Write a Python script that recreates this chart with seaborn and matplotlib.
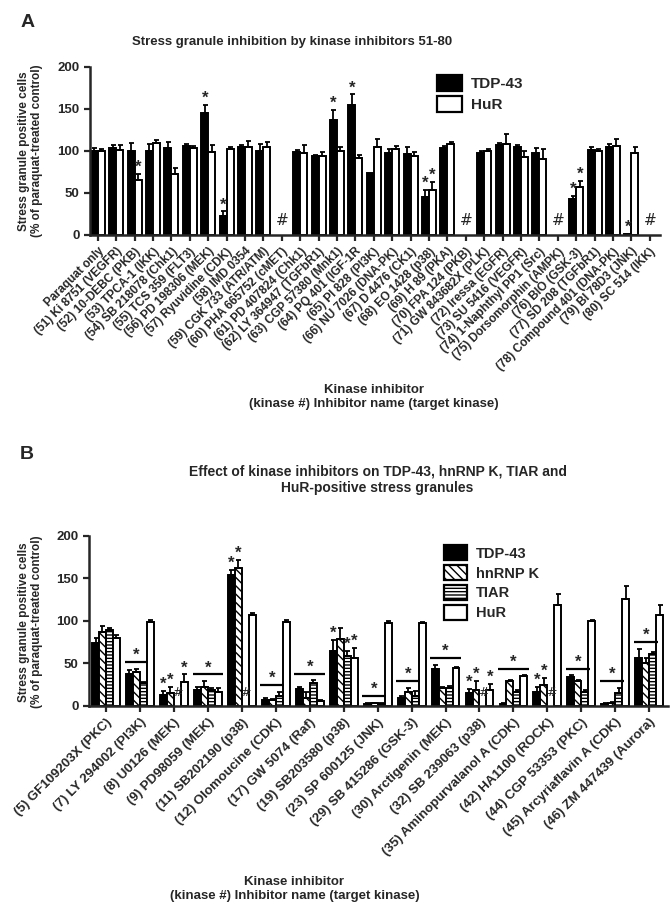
import numpy as np
import pandas as pd
import matplotlib
matplotlib.use("Agg")
import matplotlib.pyplot as plt
import seaborn as sns
from matplotlib.patches import Patch

sns.set_style("ticks")
plt.rcParams['font.family'] = ['Liberation Sans', 'DejaVu Sans']
plt.rcParams['font.weight'] = 'bold'
plt.rcParams['hatch.linewidth'] = 1.0

# ---------------- Panel A data ----------------
inhibitors_a = [
    "Paraquat only", "(51) Ki 8751 (VEGFR)", "(52) 10-DEBC (PKB)", "(53) TPCA-1 (IKK)",
    "(54) SB 218078 (Chk1)", "(55) TCS 359 (FLT3)", "(56) PD 198306 (MEK)",
    "(57) Ryuvidine (CDK)", "(58) IMD 0354", "(59) CGK 733 (ATR/ATM)",
    "(60) PHA 665752 (cMET)", "(61) PD 407824 (Chk1)", "(62) LY 364947 (TGFbR1)",
    "(63) CGP 57380 (Mnk1)", "(64) PQ 401 (IGF-1R", "(65) PI 828 (PI3K)",
    "(66) NU 7026 (DNA-PK)", "(67) D 4476 (CK1)", "(68) EO 1428 (p38)",
    "(69) H 89 (PKA)", "(70) FPA 124 (PKB)", "(71) GW 843682X (PLK)",
    "(72) Iressa (EGFR)", "(73) SU 5416 (VEGFR)", "(74) 1-Naphthyl PP1 (Src)",
    "(75) Dorsomorphin (AMPK)", "(76) BIO (GSK-3)", "(77) SD 208 (TGFbR1)",
    "(78) Compound 401 (DNA-PK)", "(79) BI 78D3 (JNK)", "(80) SC 514 (IKK)",
]
tdp_a = [100, 103, 100, 100, 103, 106, 145, 22, 104, 100,
         np.nan, 99, 94, 137, 155, 74, 98, 96, 45, 103,
         np.nan, 98, 107, 105, 98, np.nan, 43, 101, 104, 1, np.nan]
tdp_a_err = [3, 4, 9, 8, 7, 2, 9, 6, 3, 8,
             0, 2, 1, 12, 12, 0, 4, 8, 8, 3,
             0, 2, 2, 2, 5, 0, 3, 3, 4, 0, 0]
hur_a = [100, 101, 65, 109, 73, 103, 99, 102, 104, 104,
         np.nan, 97, 94, 100, 91, 104, 102, 94, 54, 108,
         np.nan, 100, 108, 93, 90, np.nan, 57, 100, 106, 98, np.nan]
hur_a_err = [2, 6, 8, 4, 7, 3, 8, 3, 8, 6,
             0, 10, 5, 4, 4, 10, 4, 5, 9, 2,
             0, 2, 12, 7, 12, 0, 7, 2, 8, 7, 0]
stars_a = {"TDP-43": [6, 7, 13, 14, 18, 26, 29], "HuR": [2, 18, 26]}

# ---------------- Panel B data ----------------
inhibitors_b = [
    "(5) GF109203X (PKC)", "(7) LY 294002 (PI3K)", "(8) U0126 (MEK)",
    "(9) PD98059 (MEK)", "(11) SB202190 (p38)", "(12) Olomoucine (CDK)",
    "(17) GW 5074 (Raf)", "(19) SB203580 (p38)", "(23) SP 600125 (JNK)",
    "(29) SB 415286 (GSK-3)", "(30) Arctigenin (MEK)", "(32) SB 239063 (p38)",
    "(35) Aminopurvalanol A (CDK)", "(42) HA1100 (ROCK)", "(44) CGP 53353 (PKC)",
    "(45) Arcyriaflavin A (CDK)", "(46) ZM 447439 (Aurora)",
]
tdp_b = [74, 38, 13, 19, 154, 7, 20, 64, 2, 9, 44, 15, 2, 16, 34, 2, 56]
tdp_b_err = [6, 4, 5, 3, 6, 2, 2, 14, 1, 3, 4, 5, 1, 6, 2, 1, 11]
hnrnp_b = [87, 40, 15, 22, 162, 7, 9, 79, 3, 16, 21, 19, 29, 25, 29, 3, 50]
hnrnp_b_err = [7, 4, 7, 7, 9, 1, 7, 12, 1, 5, 1, 10, 1, 8, 1, 2, 6]
tiar_b = [89, 27, np.nan, 19, np.nan, 12, 27, 59, 2, 12, 21, np.nan, 17, np.nan, 17, 15, 61]
tiar_b_err = [3, 1, 0, 2, 0, 5, 3, 6, 1, 6, 2, 0, 2, 0, 2, 6, 2]
hur_b = [80, 99, 28, 16, 107, 99, 6, 56, 98, 98, 45, 19, 35, 119, 100, 126, 107]
hur_b_err = [3, 2, 9, 5, 2, 2, 1, 12, 2, 1, 1, 7, 1, 12, 1, 15, 12]
# star with bar over first n bars of a group
star_lines_b = {1: 3, 3: 4, 5: 3, 6: 4, 8: 3, 9: 3, 10: 4, 12: 4, 14: 3, 15: 3, 16: 3}
stars_b = {"TDP-43": [2, 4, 7, 11, 13], "hnRNP K": [2, 4, 11, 13],
           "TIAR": [7], "HuR": [2, 7, 11]}


def long_df(cats, series):
    rows = []
    for name, (vals, errs) in series.items():
        for c, v, e in zip(cats, vals, errs):
            rows.append({"inhibitor": c, "protein": name,
                         "value": 0.0 if np.isnan(v) else v,
                         "err": e, "missing": bool(np.isnan(v))})
    return pd.DataFrame(rows)


def draw_panel(ax, df, cats, proteins, colors, hatches, width, fs_x, star_map,
               hash_center, hash_size):
    sns.barplot(data=df, x="inhibitor", y="value", hue="protein", order=cats,
                hue_order=proteins, palette=colors, width=width, dodge=True,
                errorbar=None, edgecolor="black", linewidth=1.4, legend=False, ax=ax)
    tops = {}
    for k, (prot, cont) in enumerate(zip(proteins, ax.containers)):
        sub = df[df.protein == prot].set_index("inhibitor").loc[cats]
        for i, p in enumerate(cont.patches):
            p.set_hatch(hatches[k])
            x = p.get_x() + p.get_width() / 2
            v, e, miss = sub["value"].iloc[i], sub["err"].iloc[i], sub["missing"].iloc[i]
            tops[(k, i)] = (p.get_x(), p.get_x() + p.get_width(), v + e)
            if miss:
                p.set_visible(False)
                if hash_center and k > 0:
                    continue
                ax.text(i if hash_center else x, 8, "#", ha="center", va="bottom",
                        fontsize=hash_size, fontweight="normal", family="DejaVu Sans")
                continue
            if e > 0:
                ax.errorbar(x, v, yerr=[[0], [e]], fmt="none", ecolor="black",
                            elinewidth=1.3, capsize=1.8, capthick=1.3)
            if i in star_map.get(prot, []):
                ax.text(x, v + e - 1, "*", ha="center", va="bottom", fontsize=12)
    ax.set_ylim(0, 200)
    ax.set_yticks([0, 50, 100, 150, 200])
    ax.set_xlabel("")
    ax.set_ylabel("")
    ax.tick_params(axis="both", width=1.6, length=4)
    ax.tick_params(axis="y", labelsize=9.5)
    ax.set_xticks(range(len(cats)))
    ax.set_xticklabels(cats, rotation=45, ha="right", rotation_mode="anchor",
                       fontsize=fs_x, fontweight="bold")
    for lab in ax.get_yticklabels():
        lab.set_fontweight("bold")
    sns.despine(ax=ax)
    for s in ("left", "bottom"):
        ax.spines[s].set_linewidth(1.8)
    return tops


fig = plt.figure(figsize=(6.72, 9.19), dpi=100)

# ---------------- Panel A ----------------
axA = fig.add_axes([0.134, 0.7443, 0.848, 0.1831])
dfA = long_df(inhibitors_a, {"TDP-43": (tdp_a, tdp_a_err), "HuR": (hur_a, hur_a_err)})
draw_panel(axA, dfA, inhibitors_a, ["TDP-43", "HuR"], ["black", "white"],
           ["", ""], 0.76, 8.6, stars_a, True, 11)
axA.set_xlim(-0.42, 30.55)
fig.text(0.03, 0.975, "A", fontsize=14, fontweight="bold", va="center")
fig.text(0.434, 0.954, "Stress granule inhibition by kinase inhibitors 51-80",
         ha="center", va="center", fontsize=9.5, fontweight="bold")
fig.text(0.045, 0.836, "Stress granule positive cells\n(% of paraquat-treated control)",
         rotation=90, ha="center", va="center", fontsize=8.5, fontweight="bold",
         linespacing=1.1)
fig.text(0.556, 0.568, "Kinase inhibitor\n(kinase #) Inhibitor name (target kinase)",
         ha="center", va="center", fontsize=9.5, fontweight="bold", linespacing=1.2)
axA.legend(handles=[Patch(facecolor="black", edgecolor="black", lw=1.6, label="TDP-43"),
                    Patch(facecolor="white", edgecolor="black", lw=1.6, label="HuR")],
           loc="upper left", bbox_to_anchor=(0.585, 1.03), frameon=False,
           prop={"weight": "bold", "size": 11}, handlelength=1.6, handleheight=1.2,
           labelspacing=0.3, handletextpad=0.6)

# ---------------- Panel B ----------------
axB = fig.add_axes([0.1324, 0.2318, 0.8616, 0.1853])
proteins_b = ["TDP-43", "hnRNP K", "TIAR", "HuR"]
dfB = long_df(inhibitors_b, {"TDP-43": (tdp_b, tdp_b_err), "hnRNP K": (hnrnp_b, hnrnp_b_err),
                             "TIAR": (tiar_b, tiar_b_err), "HuR": (hur_b, hur_b_err)})
topsB = draw_panel(axB, dfB, inhibitors_b, proteins_b,
                   ["black", "white", "white", "white"],
                   ["", "\\\\\\\\", "-----", ""], 0.82, 9.5, stars_b, False, 9)
axB.set_xlim(-0.5, 16.55)
for g, n in star_lines_b.items():
    x0 = topsB[(0, g)][0] - 0.04
    x1 = topsB[(n - 1, g)][1] + 0.04
    ymax = max(topsB[(k, g)][2] for k in range(n)) + 8
    axB.plot([x0, x1], [ymax, ymax], color="black", lw=1.6, solid_capstyle="butt")
    axB.text((x0 + x1) / 2, ymax - 1, "*", ha="center", va="bottom", fontsize=12)
fig.text(0.03, 0.505, "B", fontsize=14, fontweight="bold", va="center")
fig.text(0.562, 0.478, "Effect of kinase inhibitors on TDP-43, hnRNP K, TIAR and\nHuR-positive stress granules",
         ha="center", va="center", fontsize=10, fontweight="bold", linespacing=1.15)
fig.text(0.045, 0.323, "Stress granule positive cells\n(% of paraquat-treated control)",
         rotation=90, ha="center", va="center", fontsize=8.5, fontweight="bold",
         linespacing=1.1)
fig.text(0.438, 0.033, "Kinase inhibitor\n(kinase #) Inhibitor name (target kinase)",
         ha="center", va="center", fontsize=9.5, fontweight="bold", linespacing=1.2)
axB.legend(handles=[Patch(facecolor="black", edgecolor="black", lw=1.6, label="TDP-43"),
                    Patch(facecolor="white", edgecolor="black", lw=1.6, hatch="\\\\\\\\", label="hnRNP K"),
                    Patch(facecolor="white", edgecolor="black", lw=1.6, hatch="-----", label="TIAR"),
                    Patch(facecolor="white", edgecolor="black", lw=1.6, label="HuR")],
           loc="upper left", bbox_to_anchor=(0.59, 1.02), frameon=False,
           prop={"weight": "bold", "size": 10.5}, handlelength=1.6, handleheight=1.2,
           labelspacing=0.3, handletextpad=0.6)

fig.savefig("out.png", dpi=100)
